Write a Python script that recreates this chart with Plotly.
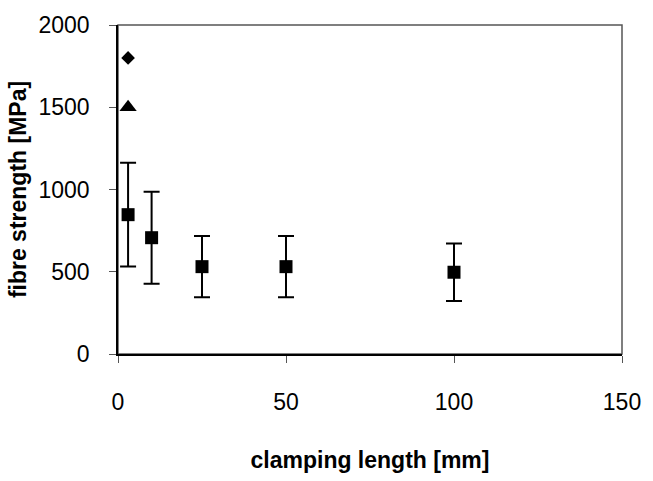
import plotly.graph_objects as go

# Data
clamp_len = [3, 10, 25, 50, 100]
strength = [847, 707, 531, 531, 497]
strength_err = [315, 280, 186, 186, 175]

tri_x = [3]
tri_y = [1500]

dia_x = [3]
dia_y = [1800]

x_ticks = [0, 50, 100, 150]
y_ticks = [0, 500, 1000, 1500, 2000]

FONT = "Liberation Sans, Arial, sans-serif"

fig = go.Figure()
fig.add_trace(go.Scatter(
    x=clamp_len, y=strength, mode="markers",
    marker=dict(symbol="square", size=13, color="black"),
    error_y=dict(type="data", array=strength_err, visible=True,
                 color="black", thickness=2, width=8),
    showlegend=False,
))
fig.add_trace(go.Scatter(
    x=tri_x, y=tri_y, mode="markers",
    marker=dict(symbol="triangle-up", size=15, color="black"),
    showlegend=False,
))
fig.add_trace(go.Scatter(
    x=dia_x, y=dia_y, mode="markers",
    marker=dict(symbol="diamond", size=10.5, color="black"),
    showlegend=False,
))

# Plot-area frame (grey top/right), axes drawn black on left/bottom
fig.add_shape(type="rect", xref="paper", yref="paper", x0=0, y0=0, x1=1, y1=1,
              line=dict(color="#555555", width=1.5), layer="below")

fig.update_layout(
    width=653, height=481,
    margin=dict(l=118, r=23, t=19, b=119),
    paper_bgcolor="white", plot_bgcolor="white",
    font=dict(family=FONT, color="black", size=23),
    xaxis=dict(
        range=[0, 150], tickvals=x_ticks, ticktext=[str(v) for v in x_ticks],
        showgrid=False, zeroline=False,
        showline=True, linecolor="black", linewidth=1.5,
        ticks="outside", ticklen=7, tickcolor="#555", tickwidth=1,
        ticklabelstandoff=20,
        tickfont=dict(size=23),
        title=dict(text="<b>clamping length [mm]</b>",
                   font=dict(size=23), standoff=38),
    ),
    yaxis=dict(
        range=[0, 2000], tickvals=y_ticks, ticktext=[str(v) for v in y_ticks],
        showgrid=False, zeroline=False,
        showline=True, linecolor="black", linewidth=1.5,
        ticks="outside", ticklen=7, tickcolor="#555", tickwidth=1,
        ticklabelstandoff=15,
        tickfont=dict(size=23),
        title=dict(text="<b>fibre strength [MPa]</b>",
                   font=dict(size=23), standoff=5),
    ),
)

fig.write_html("out.html", config={"displayModeBar": False},
               post_script="document.body.style.margin='0';")
